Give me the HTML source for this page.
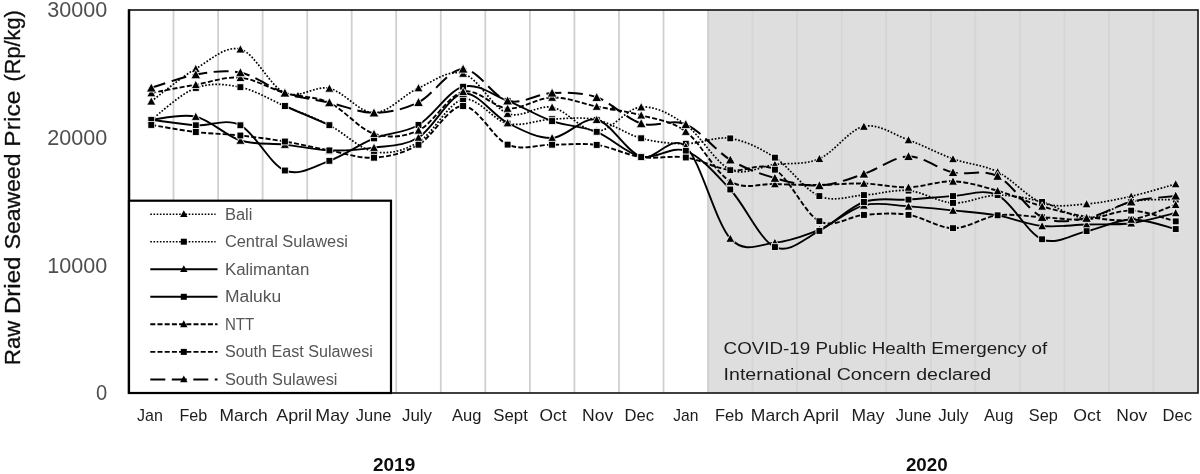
<!DOCTYPE html>
<html><head><meta charset="utf-8"><title>Raw Dried Seaweed Price</title>
<style>
html,body{margin:0;padding:0;background:#fff;}
body{width:1200px;height:474px;overflow:hidden;font-family:"Liberation Sans",sans-serif;}
svg{display:block;}
text{font-family:"Liberation Sans",sans-serif;}
</style></head><body>
<svg width="1200" height="474" viewBox="0 0 1200 474">
<defs><filter id="soft" x="0" y="0" width="1200" height="474" filterUnits="userSpaceOnUse"><feGaussianBlur stdDeviation="0.5"/></filter></defs>
<rect x="0" y="0" width="1200" height="474" fill="#ffffff"/>
<g filter="url(#soft)">
<rect x="708.0" y="10.0" width="490.0" height="383.0" fill="#dedede"/>
<g stroke-width="1.8" fill="none">
<line x1="173.5" y1="10.0" x2="173.5" y2="393.0" stroke="#d0d0d0"/>
<line x1="218.1" y1="10.0" x2="218.1" y2="393.0" stroke="#d0d0d0"/>
<line x1="262.6" y1="10.0" x2="262.6" y2="393.0" stroke="#d0d0d0"/>
<line x1="307.2" y1="10.0" x2="307.2" y2="393.0" stroke="#d0d0d0"/>
<line x1="351.7" y1="10.0" x2="351.7" y2="393.0" stroke="#d0d0d0"/>
<line x1="396.2" y1="10.0" x2="396.2" y2="393.0" stroke="#d0d0d0"/>
<line x1="440.8" y1="10.0" x2="440.8" y2="393.0" stroke="#d0d0d0"/>
<line x1="485.3" y1="10.0" x2="485.3" y2="393.0" stroke="#d0d0d0"/>
<line x1="529.9" y1="10.0" x2="529.9" y2="393.0" stroke="#d0d0d0"/>
<line x1="574.4" y1="10.0" x2="574.4" y2="393.0" stroke="#d0d0d0"/>
<line x1="619.0" y1="10.0" x2="619.0" y2="393.0" stroke="#d0d0d0"/>
<line x1="663.5" y1="10.0" x2="663.5" y2="393.0" stroke="#d0d0d0"/>
<line x1="708.0" y1="10.0" x2="708.0" y2="393.0" stroke="#cfcfcf"/>
<line x1="752.6" y1="10.0" x2="752.6" y2="393.0" stroke="#d5d5d5"/>
<line x1="797.1" y1="10.0" x2="797.1" y2="393.0" stroke="#d5d5d5"/>
<line x1="841.7" y1="10.0" x2="841.7" y2="393.0" stroke="#d5d5d5"/>
<line x1="886.2" y1="10.0" x2="886.2" y2="393.0" stroke="#d5d5d5"/>
<line x1="930.8" y1="10.0" x2="930.8" y2="393.0" stroke="#d5d5d5"/>
<line x1="975.3" y1="10.0" x2="975.3" y2="393.0" stroke="#d5d5d5"/>
<line x1="1019.8" y1="10.0" x2="1019.8" y2="393.0" stroke="#d5d5d5"/>
<line x1="1064.4" y1="10.0" x2="1064.4" y2="393.0" stroke="#d5d5d5"/>
<line x1="1108.9" y1="10.0" x2="1108.9" y2="393.0" stroke="#d5d5d5"/>
<line x1="1153.5" y1="10.0" x2="1153.5" y2="393.0" stroke="#d5d5d5"/>
</g>
<path d="M151.3 101.3C158.7 95.9 181.0 77.4 195.8 68.7C210.7 60.0 225.5 45.2 240.4 49.2C255.2 53.2 270.0 86.5 284.9 93.0C299.7 99.5 314.6 85.1 329.4 88.4C344.3 91.7 359.1 112.8 374.0 112.8C388.8 112.7 403.7 94.6 418.5 88.0C433.4 81.5 448.2 69.2 463.1 73.5C477.9 77.7 492.8 107.9 507.6 113.5C522.5 119.2 537.3 104.3 552.1 107.3C567.0 110.2 581.8 131.3 596.7 131.3C611.5 131.2 626.4 108.1 641.2 107.0C656.1 106.0 670.9 114.5 685.8 124.9C700.6 135.3 715.5 163.0 730.3 169.6C745.2 176.2 760.0 166.3 774.9 164.5C789.7 162.7 804.5 165.1 819.4 158.7C834.2 152.4 849.1 129.6 863.9 126.4C878.8 123.3 893.6 134.6 908.5 140.0C923.3 145.4 938.2 153.5 953.0 158.9C967.9 164.2 982.7 164.6 997.6 171.9C1012.4 179.2 1027.3 197.4 1042.1 202.8C1057.0 208.1 1071.8 205.0 1086.6 203.9C1101.5 202.8 1116.3 199.6 1131.2 196.3C1146.0 192.9 1168.3 186.1 1175.7 184.0" fill="none" stroke="#000" stroke-width="1.7" stroke-dasharray="1.7 1.7" stroke-linejoin="round"/>
<g fill="#000" stroke="#ffffff" stroke-width="0.8"><path d="M151.3 96.8L155.8 105.1L146.8 105.1Z"/><path d="M195.8 64.2L200.3 72.6L191.3 72.6Z"/><path d="M240.4 44.7L244.9 53.0L235.9 53.0Z"/><path d="M284.9 88.5L289.4 96.8L280.4 96.8Z"/><path d="M329.4 83.9L333.9 92.2L324.9 92.2Z"/><path d="M374.0 108.3L378.5 116.6L369.5 116.6Z"/><path d="M418.5 83.5L423.0 91.8L414.0 91.8Z"/><path d="M463.1 69.0L467.6 77.3L458.6 77.3Z"/><path d="M507.6 109.0L512.1 117.4L503.1 117.4Z"/><path d="M552.1 102.8L556.6 111.1L547.6 111.1Z"/><path d="M596.7 126.8L601.2 135.1L592.2 135.1Z"/><path d="M641.2 102.5L645.7 110.9L636.7 110.9Z"/><path d="M685.8 120.4L690.3 128.7L681.3 128.7Z"/><path d="M730.3 165.1L734.8 173.4L725.8 173.4Z"/><path d="M774.9 160.0L779.4 168.3L770.4 168.3Z"/><path d="M819.4 154.2L823.9 162.6L814.9 162.6Z"/><path d="M863.9 121.9L868.4 130.3L859.4 130.3Z"/><path d="M908.5 135.5L913.0 143.8L904.0 143.8Z"/><path d="M953.0 154.4L957.5 162.7L948.5 162.7Z"/><path d="M997.6 167.4L1002.1 175.7L993.1 175.7Z"/><path d="M1042.1 198.3L1046.6 206.6L1037.6 206.6Z"/><path d="M1086.6 199.4L1091.1 207.8L1082.1 207.8Z"/><path d="M1131.2 191.8L1135.7 200.1L1126.7 200.1Z"/><path d="M1175.7 179.5L1180.2 187.8L1171.2 187.8Z"/></g>
<path d="M151.3 119.8C158.7 114.5 181.0 93.3 195.8 87.9C210.7 82.5 225.5 84.2 240.4 87.2C255.2 90.3 270.0 99.7 284.9 106.0C299.7 112.3 314.6 117.5 329.4 125.2C344.3 132.8 359.1 148.9 374.0 151.7C388.8 154.5 403.7 150.9 418.5 142.1C433.4 133.4 448.2 102.5 463.1 99.4C477.9 96.3 492.8 120.3 507.6 123.6C522.5 126.9 537.3 119.8 552.1 119.2C567.0 118.5 581.8 116.6 596.7 119.8C611.5 123.0 626.4 134.3 641.2 138.3C656.1 142.3 670.9 143.6 685.8 143.7C700.6 143.7 715.5 136.1 730.3 138.4C745.2 140.8 760.0 148.0 774.9 157.6C789.7 167.2 804.5 189.9 819.4 196.1C834.2 202.4 849.1 196.0 863.9 195.1C878.8 194.2 893.6 189.4 908.5 190.6C923.3 191.9 938.2 202.2 953.0 202.9C967.9 203.6 982.7 195.3 997.6 195.1C1012.4 195.0 1027.3 198.2 1042.1 202.0C1057.0 205.8 1071.8 218.1 1086.6 218.1C1101.5 218.1 1116.3 204.8 1131.2 201.8C1146.0 198.7 1168.3 199.9 1175.7 199.6" fill="none" stroke="#000" stroke-width="1.7" stroke-dasharray="1.7 1.7" stroke-linejoin="round"/>
<path d="M284.9 106.0L329.4 125.2" stroke="#000" stroke-width="2" fill="none"/>
<g fill="#000" stroke="#ffffff" stroke-width="0.8"><rect x="147.9" y="116.4" width="6.8" height="6.8"/><rect x="192.4" y="84.5" width="6.8" height="6.8"/><rect x="237.0" y="83.8" width="6.8" height="6.8"/><rect x="281.5" y="102.6" width="6.8" height="6.8"/><rect x="326.0" y="121.8" width="6.8" height="6.8"/><rect x="370.6" y="148.3" width="6.8" height="6.8"/><rect x="415.1" y="138.7" width="6.8" height="6.8"/><rect x="459.7" y="96.0" width="6.8" height="6.8"/><rect x="504.2" y="120.2" width="6.8" height="6.8"/><rect x="548.7" y="115.8" width="6.8" height="6.8"/><rect x="593.3" y="116.4" width="6.8" height="6.8"/><rect x="637.8" y="134.9" width="6.8" height="6.8"/><rect x="682.4" y="140.3" width="6.8" height="6.8"/><rect x="726.9" y="135.0" width="6.8" height="6.8"/><rect x="771.5" y="154.2" width="6.8" height="6.8"/><rect x="816.0" y="192.7" width="6.8" height="6.8"/><rect x="860.5" y="191.7" width="6.8" height="6.8"/><rect x="905.1" y="187.2" width="6.8" height="6.8"/><rect x="949.6" y="199.5" width="6.8" height="6.8"/><rect x="994.2" y="191.7" width="6.8" height="6.8"/><rect x="1038.7" y="198.6" width="6.8" height="6.8"/><rect x="1083.2" y="214.7" width="6.8" height="6.8"/><rect x="1127.8" y="198.4" width="6.8" height="6.8"/><rect x="1172.3" y="196.2" width="6.8" height="6.8"/></g>
<path d="M151.3 119.8C158.7 119.3 181.0 113.2 195.8 116.6C210.7 120.0 225.5 135.8 240.4 140.5C255.2 145.1 270.0 142.9 284.9 144.6C299.7 146.2 314.6 149.9 329.4 150.4C344.3 150.9 359.1 149.8 374.0 147.6C388.8 145.5 403.7 146.5 418.5 137.5C433.4 128.5 448.2 96.0 463.1 93.6C477.9 91.2 492.8 115.6 507.6 123.0C522.5 130.4 537.3 138.5 552.1 137.9C567.0 137.4 581.8 116.5 596.7 119.7C611.5 122.8 626.4 152.3 641.2 156.8C656.1 161.3 670.9 133.0 685.8 146.6C700.6 160.2 715.5 222.5 730.3 238.5C745.2 254.5 760.0 244.1 774.9 242.6C789.7 241.1 804.5 235.8 819.4 229.6C834.2 223.4 849.1 209.2 863.9 205.3C878.8 201.5 893.6 205.5 908.5 206.4C923.3 207.2 938.2 208.9 953.0 210.4C967.9 211.9 982.7 212.8 997.6 215.4C1012.4 218.0 1027.3 224.5 1042.1 226.0C1057.0 227.5 1071.8 224.9 1086.6 224.5C1101.5 224.0 1116.3 225.1 1131.2 223.2C1146.0 221.3 1168.3 214.6 1175.7 212.9" fill="none" stroke="#000" stroke-width="1.9" stroke-linejoin="round"/>
<g fill="#000" stroke="#ffffff" stroke-width="0.8"><path d="M151.3 115.3L155.8 123.6L146.8 123.6Z"/><path d="M195.8 112.1L200.3 120.4L191.3 120.4Z"/><path d="M240.4 136.0L244.9 144.3L235.9 144.3Z"/><path d="M284.9 140.1L289.4 148.4L280.4 148.4Z"/><path d="M329.4 145.9L333.9 154.3L324.9 154.3Z"/><path d="M374.0 143.1L378.5 151.4L369.5 151.4Z"/><path d="M418.5 133.0L423.0 141.4L414.0 141.4Z"/><path d="M463.1 89.1L467.6 97.4L458.6 97.4Z"/><path d="M507.6 118.5L512.1 126.8L503.1 126.8Z"/><path d="M552.1 133.4L556.6 141.7L547.6 141.7Z"/><path d="M596.7 115.2L601.2 123.5L592.2 123.5Z"/><path d="M641.2 152.3L645.7 160.6L636.7 160.6Z"/><path d="M685.8 142.1L690.3 150.4L681.3 150.4Z"/><path d="M730.3 234.0L734.8 242.3L725.8 242.3Z"/><path d="M774.9 238.1L779.4 246.4L770.4 246.4Z"/><path d="M819.4 225.1L823.9 233.4L814.9 233.4Z"/><path d="M863.9 200.8L868.4 209.2L859.4 209.2Z"/><path d="M908.5 201.9L913.0 210.2L904.0 210.2Z"/><path d="M953.0 205.9L957.5 214.3L948.5 214.3Z"/><path d="M997.6 210.9L1002.1 219.2L993.1 219.2Z"/><path d="M1042.1 221.5L1046.6 229.8L1037.6 229.8Z"/><path d="M1086.6 220.0L1091.1 228.3L1082.1 228.3Z"/><path d="M1131.2 218.7L1135.7 227.0L1126.7 227.0Z"/><path d="M1175.7 208.4L1180.2 216.7L1171.2 216.7Z"/></g>
<path d="M151.3 119.8C158.7 120.7 181.0 124.4 195.8 125.3C210.7 126.2 225.5 117.8 240.4 125.3C255.2 132.8 270.0 164.6 284.9 170.5C299.7 176.4 314.6 166.1 329.4 160.8C344.3 155.4 359.1 144.4 374.0 138.4C388.8 132.5 403.7 133.6 418.5 125.0C433.4 116.4 448.2 90.8 463.1 86.7C477.9 82.7 492.8 95.0 507.6 100.8C522.5 106.5 537.3 115.9 552.1 121.1C567.0 126.2 581.8 125.8 596.7 131.8C611.5 137.8 626.4 153.6 641.2 156.8C656.1 160.0 670.9 145.4 685.8 150.8C700.6 156.3 715.5 173.5 730.3 189.5C745.2 205.5 760.0 240.2 774.9 247.1C789.7 254.0 804.5 238.4 819.4 230.9C834.2 223.4 849.1 207.2 863.9 202.0C878.8 196.8 893.6 200.6 908.5 199.6C923.3 198.6 938.2 196.9 953.0 196.1C967.9 195.4 982.7 188.1 997.6 195.2C1012.4 202.4 1027.3 233.3 1042.1 239.3C1057.0 245.3 1071.8 234.5 1086.6 231.2C1101.5 227.9 1116.3 219.9 1131.2 219.5C1146.0 219.1 1168.3 227.5 1175.7 229.1" fill="none" stroke="#000" stroke-width="1.9" stroke-linejoin="round"/>
<g fill="#000" stroke="#ffffff" stroke-width="0.8"><rect x="147.9" y="116.4" width="6.8" height="6.8"/><rect x="192.4" y="121.9" width="6.8" height="6.8"/><rect x="237.0" y="121.9" width="6.8" height="6.8"/><rect x="281.5" y="167.1" width="6.8" height="6.8"/><rect x="326.0" y="157.4" width="6.8" height="6.8"/><rect x="370.6" y="135.0" width="6.8" height="6.8"/><rect x="415.1" y="121.6" width="6.8" height="6.8"/><rect x="459.7" y="83.3" width="6.8" height="6.8"/><rect x="504.2" y="97.4" width="6.8" height="6.8"/><rect x="548.7" y="117.7" width="6.8" height="6.8"/><rect x="593.3" y="128.4" width="6.8" height="6.8"/><rect x="637.8" y="153.4" width="6.8" height="6.8"/><rect x="682.4" y="147.4" width="6.8" height="6.8"/><rect x="726.9" y="186.1" width="6.8" height="6.8"/><rect x="771.5" y="243.7" width="6.8" height="6.8"/><rect x="816.0" y="227.5" width="6.8" height="6.8"/><rect x="860.5" y="198.6" width="6.8" height="6.8"/><rect x="905.1" y="196.2" width="6.8" height="6.8"/><rect x="949.6" y="192.7" width="6.8" height="6.8"/><rect x="994.2" y="191.8" width="6.8" height="6.8"/><rect x="1038.7" y="235.9" width="6.8" height="6.8"/><rect x="1083.2" y="227.8" width="6.8" height="6.8"/><rect x="1127.8" y="216.1" width="6.8" height="6.8"/><rect x="1172.3" y="225.7" width="6.8" height="6.8"/></g>
<path d="M151.3 93.0C158.7 91.6 181.0 87.2 195.8 84.7C210.7 82.1 225.5 76.3 240.4 77.7C255.2 79.0 270.0 88.8 284.9 93.0C299.7 97.2 314.6 96.0 329.4 102.8C344.3 109.6 359.1 129.1 374.0 133.7C388.8 138.3 403.7 137.4 418.5 130.4C433.4 123.4 448.2 95.4 463.1 91.7C477.9 88.0 492.8 107.5 507.6 108.4C522.5 109.4 537.3 97.8 552.1 97.5C567.0 97.1 581.8 103.5 596.7 106.5C611.5 109.5 626.4 111.2 641.2 115.3C656.1 119.5 670.9 120.5 685.8 131.5C700.6 142.6 715.5 172.8 730.3 181.6C745.2 190.3 760.0 183.5 774.9 184.0C789.7 184.6 804.5 185.0 819.4 184.9C834.2 184.8 849.1 183.1 863.9 183.5C878.8 183.9 893.6 187.7 908.5 187.3C923.3 187.0 938.2 180.8 953.0 181.3C967.9 181.9 982.7 186.6 997.6 190.8C1012.4 194.9 1027.3 202.0 1042.1 206.4C1057.0 210.7 1071.8 214.5 1086.6 216.7C1101.5 218.9 1116.3 221.5 1131.2 219.5C1146.0 217.5 1168.3 207.2 1175.7 204.7" fill="none" stroke="#000" stroke-width="1.9" stroke-dasharray="5 2.2" stroke-linejoin="round"/>
<g fill="#000" stroke="#ffffff" stroke-width="0.8"><path d="M151.3 88.5L155.8 96.8L146.8 96.8Z"/><path d="M195.8 80.2L200.3 88.5L191.3 88.5Z"/><path d="M240.4 73.2L244.9 81.5L235.9 81.5Z"/><path d="M284.9 88.5L289.4 96.8L280.4 96.8Z"/><path d="M329.4 98.3L333.9 106.6L324.9 106.6Z"/><path d="M374.0 129.2L378.5 137.5L369.5 137.5Z"/><path d="M418.5 125.9L423.0 134.2L414.0 134.2Z"/><path d="M463.1 87.2L467.6 95.5L458.6 95.5Z"/><path d="M507.6 103.9L512.1 112.3L503.1 112.3Z"/><path d="M552.1 93.0L556.6 101.3L547.6 101.3Z"/><path d="M596.7 102.0L601.2 110.3L592.2 110.3Z"/><path d="M641.2 110.8L645.7 119.1L636.7 119.1Z"/><path d="M685.8 127.0L690.3 135.4L681.3 135.4Z"/><path d="M730.3 177.1L734.8 185.4L725.8 185.4Z"/><path d="M774.9 179.5L779.4 187.8L770.4 187.8Z"/><path d="M819.4 180.4L823.9 188.7L814.9 188.7Z"/><path d="M863.9 179.0L868.4 187.3L859.4 187.3Z"/><path d="M908.5 182.8L913.0 191.2L904.0 191.2Z"/><path d="M953.0 176.8L957.5 185.2L948.5 185.2Z"/><path d="M997.6 186.3L1002.1 194.6L993.1 194.6Z"/><path d="M1042.1 201.9L1046.6 210.2L1037.6 210.2Z"/><path d="M1086.6 212.2L1091.1 220.5L1082.1 220.5Z"/><path d="M1131.2 215.0L1135.7 223.3L1126.7 223.3Z"/><path d="M1175.7 200.2L1180.2 208.5L1171.2 208.5Z"/></g>
<path d="M151.3 124.9C158.7 126.1 181.0 130.3 195.8 132.0C210.7 133.8 225.5 133.9 240.4 135.5C255.2 137.1 270.0 139.0 284.9 141.5C299.7 144.0 314.6 147.7 329.4 150.4C344.3 153.1 359.1 158.7 374.0 157.7C388.8 156.8 403.7 153.3 418.5 144.7C433.4 136.1 448.2 106.0 463.1 106.0C477.9 106.0 492.8 138.1 507.6 144.6C522.5 151.0 537.3 144.6 552.1 144.7C567.0 144.8 581.8 142.9 596.7 144.9C611.5 147.0 626.4 155.0 641.2 157.1C656.1 159.2 670.9 155.3 685.8 157.5C700.6 159.6 715.5 168.2 730.3 170.2C745.2 172.3 760.0 161.2 774.9 169.7C789.7 178.2 804.5 213.6 819.4 221.2C834.2 228.7 849.1 216.0 863.9 214.9C878.8 213.8 893.6 212.6 908.5 214.8C923.3 217.0 938.2 228.1 953.0 228.2C967.9 228.3 982.7 217.1 997.6 215.3C1012.4 213.5 1027.3 216.5 1042.1 217.2C1057.0 217.9 1071.8 220.5 1086.6 219.4C1101.5 218.3 1116.3 210.2 1131.2 210.6C1146.0 210.9 1168.3 219.6 1175.7 221.4" fill="none" stroke="#000" stroke-width="1.9" stroke-dasharray="5 2.2" stroke-linejoin="round"/>
<g fill="#000" stroke="#ffffff" stroke-width="0.8"><rect x="147.9" y="121.5" width="6.8" height="6.8"/><rect x="192.4" y="128.6" width="6.8" height="6.8"/><rect x="237.0" y="132.1" width="6.8" height="6.8"/><rect x="281.5" y="138.1" width="6.8" height="6.8"/><rect x="326.0" y="147.0" width="6.8" height="6.8"/><rect x="370.6" y="154.3" width="6.8" height="6.8"/><rect x="415.1" y="141.3" width="6.8" height="6.8"/><rect x="459.7" y="102.6" width="6.8" height="6.8"/><rect x="504.2" y="141.2" width="6.8" height="6.8"/><rect x="548.7" y="141.3" width="6.8" height="6.8"/><rect x="593.3" y="141.5" width="6.8" height="6.8"/><rect x="637.8" y="153.7" width="6.8" height="6.8"/><rect x="682.4" y="154.1" width="6.8" height="6.8"/><rect x="726.9" y="166.8" width="6.8" height="6.8"/><rect x="771.5" y="166.3" width="6.8" height="6.8"/><rect x="816.0" y="217.8" width="6.8" height="6.8"/><rect x="860.5" y="211.5" width="6.8" height="6.8"/><rect x="905.1" y="211.4" width="6.8" height="6.8"/><rect x="949.6" y="224.8" width="6.8" height="6.8"/><rect x="994.2" y="211.9" width="6.8" height="6.8"/><rect x="1038.7" y="213.8" width="6.8" height="6.8"/><rect x="1083.2" y="216.0" width="6.8" height="6.8"/><rect x="1127.8" y="207.2" width="6.8" height="6.8"/><rect x="1172.3" y="218.0" width="6.8" height="6.8"/></g>
<path d="M151.3 87.9C158.7 85.7 181.0 77.2 195.8 74.6C210.7 72.0 225.5 69.5 240.4 72.6C255.2 75.6 270.0 88.0 284.9 93.0C299.7 98.0 314.6 99.3 329.4 102.6C344.3 105.9 359.1 112.8 374.0 112.8C388.8 112.7 403.7 109.6 418.5 102.3C433.4 95.0 448.2 69.2 463.1 69.0C477.9 68.7 492.8 96.8 507.6 100.8C522.5 104.8 537.3 93.6 552.1 93.0C567.0 92.4 581.8 92.2 596.7 97.3C611.5 102.4 626.4 119.0 641.2 123.5C656.1 128.0 670.9 118.3 685.8 124.4C700.6 130.4 715.5 150.8 730.3 159.8C745.2 168.7 760.0 173.8 774.9 178.1C789.7 182.4 804.5 186.2 819.4 185.5C834.2 184.8 849.1 178.8 863.9 173.9C878.8 169.1 893.6 156.7 908.5 156.4C923.3 156.2 938.2 169.1 953.0 172.4C967.9 175.7 982.7 168.6 997.6 176.1C1012.4 183.6 1027.3 210.2 1042.1 217.2C1057.0 224.2 1071.8 220.7 1086.6 218.1C1101.5 215.5 1116.3 205.5 1131.2 201.8C1146.0 198.1 1168.3 196.9 1175.7 195.9" fill="none" stroke="#000" stroke-width="2.0" stroke-dasharray="15 6.5" stroke-linejoin="round"/>
<g fill="#000" stroke="#ffffff" stroke-width="0.8"><path d="M151.3 83.0L156.2 92.0L146.4 92.0Z"/><path d="M195.8 69.7L200.7 78.8L190.9 78.8Z"/><path d="M240.4 67.7L245.3 76.7L235.5 76.7Z"/><path d="M284.9 88.1L289.8 97.1L280.0 97.1Z"/><path d="M329.4 97.7L334.3 106.7L324.5 106.7Z"/><path d="M374.0 107.9L378.9 116.9L369.1 116.9Z"/><path d="M418.5 97.4L423.4 106.5L413.6 106.5Z"/><path d="M463.1 64.1L468.0 73.1L458.2 73.1Z"/><path d="M507.6 95.9L512.5 104.9L502.7 104.9Z"/><path d="M552.1 88.1L557.0 97.1L547.2 97.1Z"/><path d="M596.7 92.4L601.6 101.5L591.8 101.5Z"/><path d="M641.2 118.6L646.1 127.7L636.3 127.7Z"/><path d="M685.8 119.5L690.7 128.6L680.9 128.6Z"/><path d="M730.3 154.9L735.2 163.9L725.4 163.9Z"/><path d="M774.9 173.2L779.8 182.3L770.0 182.3Z"/><path d="M819.4 180.6L824.3 189.7L814.5 189.7Z"/><path d="M863.9 169.0L868.8 178.1L859.0 178.1Z"/><path d="M908.5 151.5L913.4 160.6L903.6 160.6Z"/><path d="M953.0 167.5L957.9 176.6L948.1 176.6Z"/><path d="M997.6 171.2L1002.5 180.3L992.7 180.3Z"/><path d="M1042.1 212.3L1047.0 221.4L1037.2 221.4Z"/><path d="M1086.6 213.2L1091.5 222.3L1081.7 222.3Z"/><path d="M1131.2 196.9L1136.1 205.9L1126.3 205.9Z"/><path d="M1175.7 191.0L1180.6 200.0L1170.8 200.0Z"/></g>
<g fill="#000"><path d="M298.0 91.9L301.0 97.5L295.0 97.5Z"/><path d="M613.0 104.9L616.0 110.5L610.0 110.5Z"/></g>
<rect x="129.0" y="10.0" width="1069.0" height="383.0" fill="none" stroke="#111" stroke-width="1.6"/>
<line x1="129.0" y1="9.5" x2="129.0" y2="394.0" stroke="#000" stroke-width="2.5"/>
<rect x="129.0" y="200.7" width="262.0" height="192.3" fill="#fff" stroke="#000" stroke-width="2.2"/>
<line x1="150.3" y1="214.2" x2="215.6" y2="214.2" stroke="#000" stroke-width="1.5" stroke-dasharray="1.6 1.6"/><g fill="#000"><path d="M183.8 210.2L187.5 217.0L180.1 217.0Z"/></g><text x="224.9" y="219.5" font-size="15.8" fill="#555555" textLength="27.5" lengthAdjust="spacingAndGlyphs">Bali</text>
<line x1="150.3" y1="241.7" x2="215.6" y2="241.7" stroke="#000" stroke-width="1.5" stroke-dasharray="1.6 1.6"/><g fill="#000"><rect x="180.8" y="238.7" width="6.0" height="6.0"/></g><text x="224.9" y="247.0" font-size="15.8" fill="#555555" textLength="123.1" lengthAdjust="spacingAndGlyphs">Central Sulawesi</text>
<line x1="150.3" y1="269.3" x2="217.5" y2="269.3" stroke="#000" stroke-width="1.9"/><g fill="#000"><path d="M183.8 265.3L187.5 272.1L180.1 272.1Z"/></g><text x="224.9" y="274.6" font-size="15.8" fill="#555555" textLength="84.4" lengthAdjust="spacingAndGlyphs">Kalimantan</text>
<line x1="150.3" y1="296.8" x2="217.5" y2="296.8" stroke="#000" stroke-width="1.9"/><g fill="#000"><rect x="180.8" y="293.8" width="6.0" height="6.0"/></g><text x="224.9" y="302.1" font-size="15.8" fill="#555555" textLength="56.3" lengthAdjust="spacingAndGlyphs">Maluku</text>
<line x1="150.3" y1="324.3" x2="217.5" y2="324.3" stroke="#000" stroke-width="1.9" stroke-dasharray="5 2.2"/><g fill="#000"><path d="M183.8 320.3L187.5 327.2L180.1 327.2Z"/></g><text x="224.9" y="329.6" font-size="15.8" fill="#555555" textLength="29.3" lengthAdjust="spacingAndGlyphs">NTT</text>
<line x1="150.3" y1="351.9" x2="217.5" y2="351.9" stroke="#000" stroke-width="1.9" stroke-dasharray="5 2.2"/><g fill="#000"><rect x="180.8" y="348.9" width="6.0" height="6.0"/></g><text x="224.9" y="357.2" font-size="15.8" fill="#555555" textLength="147.9" lengthAdjust="spacingAndGlyphs">South East Sulawesi</text>
<line x1="150.3" y1="379.4" x2="217.5" y2="379.4" stroke="#000" stroke-width="2.0" stroke-dasharray="15 6.5"/><g fill="#000"><path d="M183.8 375.4L187.5 382.2L180.1 382.2Z"/></g><text x="224.9" y="384.7" font-size="15.8" fill="#555555" textLength="112.6" lengthAdjust="spacingAndGlyphs">South Sulawesi</text>
<text x="96.0" y="400.2" font-size="21.6" fill="#505050" textLength="11.2" lengthAdjust="spacingAndGlyphs">0</text>
<text x="47.2" y="272.5" font-size="21.6" fill="#505050" textLength="60.0" lengthAdjust="spacingAndGlyphs">10000</text>
<text x="47.2" y="144.9" font-size="21.6" fill="#505050" textLength="60.0" lengthAdjust="spacingAndGlyphs">20000</text>
<text x="47.2" y="17.2" font-size="21.6" fill="#505050" textLength="60.0" lengthAdjust="spacingAndGlyphs">30000</text>
<text transform="translate(20.4 365.0) rotate(-90)" font-size="22.2" fill="#0d0d0d" stroke="#0d0d0d" stroke-width="0.3" textLength="44.1" lengthAdjust="spacingAndGlyphs">Raw</text>
<text transform="translate(20.4 314.1) rotate(-90)" font-size="22.2" fill="#0d0d0d" stroke="#0d0d0d" stroke-width="0.3" textLength="57.5" lengthAdjust="spacingAndGlyphs">Dried</text>
<text transform="translate(20.4 249.3) rotate(-90)" font-size="22.2" fill="#0d0d0d" stroke="#0d0d0d" stroke-width="0.3" textLength="95.7" lengthAdjust="spacingAndGlyphs">Seaweed</text>
<text transform="translate(20.4 146.7) rotate(-90)" font-size="22.2" fill="#0d0d0d" stroke="#0d0d0d" stroke-width="0.3" textLength="56.1" lengthAdjust="spacingAndGlyphs">Price</text>
<text transform="translate(20.4 81.5) rotate(-90)" font-size="22.2" fill="#0d0d0d" stroke="#0d0d0d" stroke-width="0.3" textLength="71.2" lengthAdjust="spacingAndGlyphs">(Rp/kg)</text>
<text x="137.0" y="420.9" font-size="16.2" fill="#1c1c1c" textLength="25.8" lengthAdjust="spacingAndGlyphs">Jan</text>
<text x="179.5" y="420.9" font-size="16.2" fill="#1c1c1c" textLength="27.8" lengthAdjust="spacingAndGlyphs">Feb</text>
<text x="219.5" y="420.9" font-size="16.2" fill="#1c1c1c" textLength="48.3" lengthAdjust="spacingAndGlyphs">March</text>
<text x="276.3" y="420.9" font-size="16.2" fill="#1c1c1c" textLength="35.7" lengthAdjust="spacingAndGlyphs">April</text>
<text x="315.3" y="420.9" font-size="16.2" fill="#1c1c1c" textLength="33.7" lengthAdjust="spacingAndGlyphs">May</text>
<text x="355.8" y="420.9" font-size="16.2" fill="#1c1c1c" textLength="35.7" lengthAdjust="spacingAndGlyphs">June</text>
<text x="402.0" y="420.9" font-size="16.2" fill="#1c1c1c" textLength="30.0" lengthAdjust="spacingAndGlyphs">July</text>
<text x="452.0" y="420.9" font-size="16.2" fill="#1c1c1c" textLength="29.5" lengthAdjust="spacingAndGlyphs">Aug</text>
<text x="493.3" y="420.9" font-size="16.2" fill="#1c1c1c" textLength="34.5" lengthAdjust="spacingAndGlyphs">Sept</text>
<text x="539.5" y="420.9" font-size="16.2" fill="#1c1c1c" textLength="27.0" lengthAdjust="spacingAndGlyphs">Oct</text>
<text x="582.0" y="420.9" font-size="16.2" fill="#1c1c1c" textLength="31.3" lengthAdjust="spacingAndGlyphs">Nov</text>
<text x="624.5" y="420.9" font-size="16.2" fill="#1c1c1c" textLength="29.5" lengthAdjust="spacingAndGlyphs">Dec</text>
<text x="673.3" y="420.9" font-size="16.2" fill="#1c1c1c" textLength="25.2" lengthAdjust="spacingAndGlyphs">Jan</text>
<text x="715.0" y="420.9" font-size="16.2" fill="#1c1c1c" textLength="28.5" lengthAdjust="spacingAndGlyphs">Feb</text>
<text x="750.8" y="420.9" font-size="16.2" fill="#1c1c1c" textLength="48.7" lengthAdjust="spacingAndGlyphs">March</text>
<text x="803.3" y="420.9" font-size="16.2" fill="#1c1c1c" textLength="35.7" lengthAdjust="spacingAndGlyphs">April</text>
<text x="851.5" y="420.9" font-size="16.2" fill="#1c1c1c" textLength="33.0" lengthAdjust="spacingAndGlyphs">May</text>
<text x="895.8" y="420.9" font-size="16.2" fill="#1c1c1c" textLength="35.7" lengthAdjust="spacingAndGlyphs">June</text>
<text x="938.3" y="420.9" font-size="16.2" fill="#1c1c1c" textLength="30.2" lengthAdjust="spacingAndGlyphs">July</text>
<text x="984.0" y="420.9" font-size="16.2" fill="#1c1c1c" textLength="29.3" lengthAdjust="spacingAndGlyphs">Aug</text>
<text x="1028.8" y="420.9" font-size="16.2" fill="#1c1c1c" textLength="29.0" lengthAdjust="spacingAndGlyphs">Sep</text>
<text x="1073.3" y="420.9" font-size="16.2" fill="#1c1c1c" textLength="27.5" lengthAdjust="spacingAndGlyphs">Oct</text>
<text x="1116.3" y="420.9" font-size="16.2" fill="#1c1c1c" textLength="31.0" lengthAdjust="spacingAndGlyphs">Nov</text>
<text x="1162.5" y="420.9" font-size="16.2" fill="#1c1c1c" textLength="29.5" lengthAdjust="spacingAndGlyphs">Dec</text>
<text x="373.0" y="471.2" font-size="17.9" font-weight="bold" fill="#111" textLength="42.2" lengthAdjust="spacingAndGlyphs">2019</text>
<text x="905.9" y="471.2" font-size="17.9" font-weight="bold" fill="#111" textLength="41.8" lengthAdjust="spacingAndGlyphs">2020</text>
<text x="723.6" y="354.3" font-size="17.2" fill="#1c1c1c" textLength="323.6" lengthAdjust="spacingAndGlyphs">COVID-19 Public Health Emergency of</text>
<text x="723.6" y="379.6" font-size="17.2" fill="#1c1c1c" textLength="267.6" lengthAdjust="spacingAndGlyphs">International Concern declared</text>
</g>
</svg>
</body></html>
